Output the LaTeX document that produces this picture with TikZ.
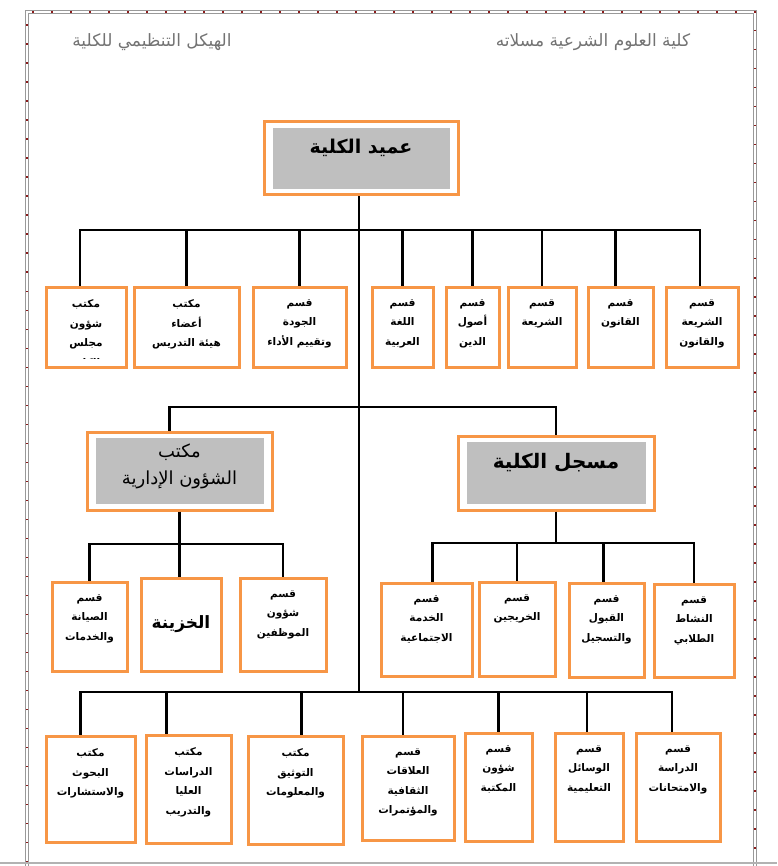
\documentclass[tikz,border=0pt]{standalone}
\usepackage{fontspec}
\newfontfamily\arabicfont[Script=Arabic]{DejaVu Sans}
\TeXXeTstate=1
\newcommand{\rl}[1]{\beginR#1\endR}
\definecolor{boxorange}{HTML}{F79646}
\definecolor{headgray}{HTML}{BFBFBF}
\definecolor{framered}{HTML}{8B1A1A}

\begin{document}
\begin{tikzpicture}[
  x=1pt, y=-1pt,
  box/.style={draw=boxorange, line width=3pt, fill=white, inner sep=0pt},
  headbox/.style={box, path picture={\fill[headgray]
      ([shift={(9pt,-6pt)}]path picture bounding box.north west) rectangle
      ([shift={(-8pt,6pt)}]path picture bounding box.south east);}},
  boxtext/.style={anchor=north, align=center, inner sep=0pt,
      font=\arabicfont\bfseries\fontsize{10.5}{19.5}\selectfont},
  titletext/.style={anchor=north, align=center, inner sep=0pt,
      font=\arabicfont\bfseries\fontsize{19}{22}\selectfont},
  headtext/.style={inner sep=0pt, text=black!55,
      font=\arabicfont\fontsize{17}{20}\selectfont},
  frameline/.style={draw=black!40, line width=1pt},
  conn/.style={draw=black, line width=2.8pt},
]
  \useasboundingbox (0,0) rectangle (777,866);
  % #1 name, #2 left, #3 top, #4 right, #5 bottom, #6 text
  \newcommand{\orgbox}[6]{%
    \node[box, minimum width={#4-#2}, minimum height={#5-#3}] (#1) at ({(#2+#4)/2},{(#3+#5)/2}) {};
    \node[boxtext] (#1-txt) at ([yshift=-14pt]#1.north) {#6};}

  % page frame
  \draw[frameline] (25.5,10.5) rectangle (756.5,900);
  \draw[frameline] (28.5,13.5) rectangle (753.5,900);
  \draw[framered, line width=1.3pt, dash pattern=on 1.5pt off 17.5pt] (27,900) -- (27,12) -- (755,12) -- (755,900);
  \draw[black!30, line width=1.5pt] (0,863) -- (777,863);

  % heading
  \node[headtext] (chart) at (152,42) {\rl{الهيكل التنظيمي للكلية}};
  \node[headtext] (college) at (593,42) {\rl{كلية العلوم الشرعية مسلاته}};

  % dean
  \node[headbox, minimum width=194, minimum height=73] (dean) at (361,158.5) {};
  \node[titletext] (dean-txt) at ([yshift=-18pt]dean.north) {\rl{عميد الكلية}};

  % first row
  \orgbox{t1}{46}{287}{126}{367}{\rl{مكتب}\\\rl{شؤون}\\\rl{مجلس}}
  \orgbox{t2}{134}{287}{239}{367}{\rl{مكتب}\\\rl{أعضاء}\\\rl{هيئة التدريس}}
  \orgbox{t3}{253}{287}{346}{367}{\rl{قسم}\\\rl{الجودة}\\\rl{وتقييم الأداء}}
  \orgbox{t4}{372}{287}{433}{367}{\rl{قسم}\\\rl{اللغة}\\\rl{العربية}}
  \orgbox{t5}{446}{287}{499}{367}{\rl{قسم}\\\rl{أصول}\\\rl{الدين}}
  \orgbox{t6}{508}{287}{576}{367}{\rl{قسم}\\\rl{الشريعة}}
  \orgbox{t7}{588}{287}{653}{367}{\rl{قسم}\\\rl{القانون}}
  \orgbox{t8}{666}{287}{738}{367}{\rl{قسم}\\\rl{الشريعة}\\\rl{والقانون}}
  \begin{scope}
    \clip (t1.north west) rectangle ([yshift=10pt]t1.south east);
    \node[boxtext] (t1-cut) at ([yshift=-58.5pt]t1-txt.north) {\rl{الكلية}};
  \end{scope}

  % registrar and administration
  \node[headbox, minimum width=185, minimum height=78] (admin) at (179.5,471) {};
  \node[titletext, font=\arabicfont\fontsize{18}{27}\selectfont] (admin-txt) at ([yshift=-13pt]admin.north) {\rl{مكتب}\\\rl{الشؤون الإدارية}};
  \node[headbox, minimum width=196, minimum height=74] (reg) at (556,473) {};
  \node[titletext, font=\arabicfont\bfseries\fontsize{20}{24}\selectfont] (reg-txt) at ([yshift=-19pt]reg.north) {\rl{مسجل الكلية}};

  \orgbox{sa}{52}{582}{127}{671}{\rl{قسم}\\\rl{الصيانة}\\\rl{والخدمات}}
  \orgbox{sb}{141}{578}{221}{671}{}
  \node[font=\arabicfont\bfseries\fontsize{17}{20}\selectfont, inner sep=0pt] (sb-txt) at (sb) {\rl{الخزينة}};
  \orgbox{sc}{240}{578}{326}{671}{\rl{قسم}\\\rl{شؤون}\\\rl{الموظفين}}

  \orgbox{ra}{381}{583}{472}{676}{\rl{قسم}\\\rl{الخدمة}\\\rl{الاجتماعية}}
  \orgbox{rb}{479}{582}{555}{676}{\rl{قسم}\\\rl{الخريجين}}
  \orgbox{rc}{569}{583}{644}{677}{\rl{قسم}\\\rl{القبول}\\\rl{والتسجيل}}
  \orgbox{rd}{654}{584}{734}{677}{\rl{قسم}\\\rl{النشاط}\\\rl{الطلابي}}

  % last row
  \orgbox{b1}{46}{736}{135}{842}{\rl{مكتب}\\\rl{البحوث}\\\rl{والاستشارات}}
  \orgbox{b2}{146}{735}{231}{843}{\rl{مكتب}\\\rl{الدراسات}\\\rl{العليا}\\\rl{والتدريب}}
  \orgbox{b3}{248}{736}{343}{844}{\rl{مكتب}\\\rl{التوثيق}\\\rl{والمعلومات}}
  \orgbox{b4}{362}{736}{454}{840}{\rl{قسم}\\\rl{العلاقات}\\\rl{الثقافية}\\\rl{والمؤتمرات}}
  \orgbox{b5}{465}{733}{532}{841}{\rl{قسم}\\\rl{شؤون}\\\rl{المكتبة}}
  \orgbox{b6}{555}{733}{623}{841}{\rl{قسم}\\\rl{الوسائل}\\\rl{التعليمية}}
  \orgbox{b7}{636}{733}{720}{841}{\rl{قسم}\\\rl{الدراسة}\\\rl{والامتحانات}}

  % bus lines
  \coordinate (bus1) at (359,230);
  \coordinate (bus2) at (359,407);
  \coordinate (bus3) at (359,692);
  \coordinate (adminbus) at (179,544);
  \coordinate (regbus) at (554,543);
  \coordinate (trunk) at ([xshift=-2pt]dean.south);
  \coordinate (t1-in) at ([xshift=-6pt]t1.north);
  \coordinate (t7-in) at ([xshift=-5pt]t7.north);
  \coordinate (t8-in) at ([xshift=-2pt]t8.north);
  \coordinate (admin-in) at ([xshift=-10pt]admin.north);
  \coordinate (ra-in) at ([xshift=6pt]ra.north);
  \coordinate (rc-in) at ([xshift=-3pt]rc.north);
  \coordinate (b1-in) at ([xshift=-10pt]b1.north);
  \coordinate (b2-in) at ([xshift=-22pt]b2.north);
  \coordinate (b3-in) at ([xshift=6pt]b3.north);
  \coordinate (b4-in) at ([xshift=-5pt]b4.north);
  \coordinate (b6-in) at ([xshift=-2pt]b6.north);
  \coordinate (b7-in) at ([xshift=-6pt]b7.north);

  \draw[conn] (trunk) -- (trunk |- bus3);
  \draw[conn] (t1-in) -- (t1-in |- bus1) -- (t8-in |- bus1) -- (t8-in);
  \foreach \n in {t2,t3,t4,t5,t6}
    \draw[conn] (\n.north |- bus1) -- (\n.north);
  \draw[conn] (t7-in |- bus1) -- (t7-in);

  \draw[conn] (admin-in) -- (admin-in |- bus2) -- (reg.north |- bus2) -- (reg.north);
  \draw[conn] (sa.north) -- (sa.north |- adminbus) -- (sc.north |- adminbus) -- (sc.north);
  \draw[conn] (admin.south) -- (admin.south |- sb.north);
  \draw[conn] (ra-in) -- (ra-in |- regbus) -- (rd.north |- regbus) -- (rd.north);
  \draw[conn] (reg.south) -- (reg.south |- regbus);
  \draw[conn] (rb.north |- regbus) -- (rb.north);
  \draw[conn] (rc-in |- regbus) -- (rc-in);

  \draw[conn] (b1-in) -- (b1-in |- bus3) -- (b7-in |- bus3) -- (b7-in);
  \draw[conn] (b2-in |- bus3) -- (b2-in);
  \draw[conn] (b3-in |- bus3) -- (b3-in);
  \draw[conn] (b4-in |- bus3) -- (b4-in);
  \draw[conn] (b5.north |- bus3) -- (b5.north);
  \draw[conn] (b6-in |- bus3) -- (b6-in);
\end{tikzpicture}
\end{document}
